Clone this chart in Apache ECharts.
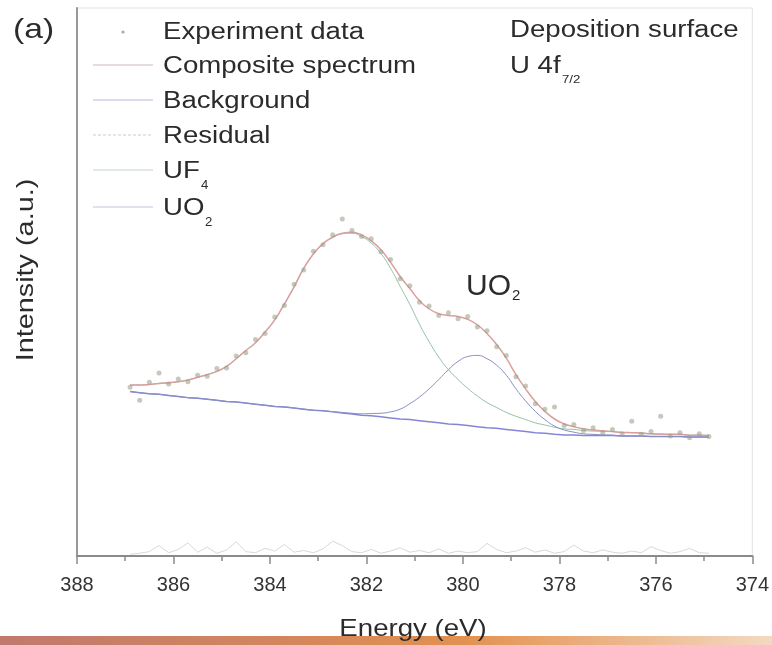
<!DOCTYPE html>
<html>
<head>
<meta charset="utf-8">
<title>U 4f XPS</title>
<script src="https://cdn.jsdelivr.net/npm/echarts@6/dist/echarts.min.js"></script>
<style>
html, body { margin: 0; padding: 0; background: #fff; }
#chart { width: 772px; height: 645px; }
</style>
</head>
<body>
<div id="chart"></div>
<script>
// binding energy grid (eV)
var energies = [386.9, 386.7, 386.5, 386.3, 386.1, 385.9, 385.7, 385.5, 385.3, 385.1,
                384.9, 384.7, 384.5, 384.3, 384.1, 383.9, 383.7, 383.5, 383.3, 383.1,
                382.9, 382.7, 382.5, 382.3, 382.1, 381.9, 381.7, 381.5, 381.3, 381.1,
                380.9, 380.7, 380.5, 380.3, 380.1, 379.9, 379.7, 379.5, 379.3, 379.1,
                378.9, 378.7, 378.5, 378.3, 378.1, 377.9, 377.7, 377.5, 377.3, 377.1,
                376.9, 376.7, 376.5, 376.3, 376.1, 375.9, 375.7, 375.5, 375.3, 375.1, 374.9];

var experiment = [30.8, 28.4, 31.7, 33.4, 31.4, 32.3, 31.8, 33.0, 32.8, 34.2,
                  34.3, 36.5, 37.1, 39.5, 40.6, 43.6, 45.7, 49.6, 52.2, 55.6,
                  56.8, 58.6, 61.5, 59.4, 58.3, 57.9, 55.5, 54.1, 50.6, 49.3,
                  46.3, 45.6, 43.9, 44.4, 43.3, 43.7, 41.8, 41.1, 38.2, 36.6,
                  32.7, 31.0, 27.8, 26.8, 27.2, 23.8, 24.0, 22.9, 23.4, 22.5,
                  23.1, 22.3, 24.6, 22.2, 22.7, 25.5, 21.9, 22.5, 21.6, 22.3, 21.8];

var composite = [31.2, 31.2, 31.3, 31.5, 31.6, 31.8, 32.1, 32.6, 33.1, 33.7,
                 34.6, 36.0, 37.5, 38.9, 40.9, 43.1, 46.0, 49.1, 52.5, 55.1,
                 57.0, 58.2, 58.9, 59.1, 58.6, 57.5, 55.9, 53.6, 51.0, 48.8,
                 46.6, 45.1, 44.2, 43.9, 43.7, 43.2, 42.2, 40.6, 38.6, 36.1,
                 33.1, 30.5, 28.2, 26.4, 25.0, 24.1, 23.6, 23.2, 23.0, 22.85,
                 22.7, 22.55, 22.5, 22.45, 22.3, 22.25, 22.2, 22.2, 22.05, 22.05, 22.0];

var background = [30.0, 29.8, 29.6, 29.5, 29.3, 29.1, 28.9, 28.8, 28.6, 28.4,
                  28.2, 28.1, 27.9, 27.7, 27.5, 27.3, 27.2, 27.0, 26.8, 26.6,
                  26.5, 26.3, 26.1, 25.9, 25.7, 25.6, 25.4, 25.2, 25.0, 24.9,
                  24.7, 24.5, 24.3, 24.1, 24.0, 23.8, 23.6, 23.4, 23.3, 23.1,
                  22.9, 22.7, 22.5, 22.4, 22.2, 22.1, 22.1, 22.0, 22.0, 22.0,
                  22.0, 21.9, 21.9, 21.9, 21.8, 21.8, 21.8, 21.8, 21.7, 21.7, 21.7];

var uf4 = [31.2, 31.2, 31.3, 31.5, 31.6, 31.8, 32.1, 32.6, 33.1, 33.7,
           34.6, 36.0, 37.5, 38.9, 40.9, 43.1, 46.0, 49.1, 52.5, 55.1,
           57.0, 58.1, 58.8, 58.9, 58.3, 57.1, 55.2, 52.5, 49.2, 45.9,
           42.3, 39.1, 36.3, 34.0, 32.2, 30.6, 29.2, 28.0, 27.1, 26.2,
           25.5, 24.9, 24.3, 23.9, 23.5, 23.2, 23.1, 22.9, 22.8, 22.75,
           22.7, 22.55, 22.5, 22.45, 22.3, 22.25, 22.2, 22.2, 22.05, 22.05, 22.0];

var uo2 = [30.0, 29.8, 29.6, 29.5, 29.3, 29.1, 28.9, 28.8, 28.6, 28.4,
           28.2, 28.1, 27.9, 27.7, 27.5, 27.3, 27.2, 27.0, 26.8, 26.6,
           26.5, 26.35, 26.2, 26.05, 25.95, 26.0, 26.05, 26.3, 26.8, 27.8,
           29.0, 30.5, 32.2, 34.0, 35.5, 36.4, 36.6, 36.0, 34.8, 33.0,
           30.5, 28.3, 26.4, 24.9, 23.7, 23.0, 22.6, 22.3, 22.2, 22.1,
           22.05, 21.9, 21.9, 21.9, 21.8, 21.8, 21.8, 21.8, 21.7, 21.7, 21.7];

var residual = [0.3, 0.5, 0.8, 1.9, 0.6, 1.2, 2.4, 0.7, 1.6, 0.5,
                1.1, 2.6, 0.8, 0.6, 1.4, 0.9, 2.1, 0.7, 1.0, 0.6,
                1.3, 2.7, 1.9, 0.8, 0.6, 1.2, 0.5, 0.9, 1.5, 0.7,
                1.0, 0.6, 1.3, 0.5, 0.9, 0.6, 0.8, 2.3, 1.2, 0.6,
                0.9, 1.5, 0.7, 1.1, 0.5, 0.8, 2.0, 0.9, 0.6, 1.1,
                0.7, 0.5, 0.9, 0.6, 1.7, 1.0, 0.5, 0.8, 1.4, 0.6, 0.5];

var xTicks = [388, 386, 384, 382, 380, 378, 376, 374];

var legendNames = ['Experiment data', 'Composite spectrum', 'Background', 'Residual', 'UF', 'UO'];

function pairs(ys) {
    return energies.map(function (e, i) { return [e, ys[i]]; });
}

var FONT = '"Liberation Sans", Arial, sans-serif';
var TXT = '#2b2b2b';

function label(x, y, text, size, sx, align) {
    return {
        type: 'text', x: x, y: y, scaleX: sx || 1, z: 100,
        style: { text: text, fontSize: size, fontFamily: FONT, fill: TXT, align: align || 'left', verticalAlign: 'middle' }
    };
}

var legendRows = [33, 67, 102, 137, 172, 209];
var legendLines = [
    null,
    { c: '#cdb9c3', dash: null },
    { c: '#b7b8dc', dash: null },
    { c: '#cccccc', dash: [3, 2] },
    { c: '#c4d4c9', dash: null },
    { c: '#c0c6de', dash: null }
];

var graphics = [];
// bottom decorative bar
graphics.push({
    type: 'rect', left: 0, top: 636, z: 1,
    shape: { width: 772, height: 9 },
    style: {
        fill: new echarts.graphic.LinearGradient(0, 0, 1, 0, [
            { offset: 0, color: '#c07a6e' },
            { offset: 0.35, color: '#d2855e' },
            { offset: 0.6, color: '#e3914f' },
            { offset: 1, color: '#f4d9c2' }
        ])
    }
});
graphics.push(label(13, 30, '(a)', 28, 1.2));
// legend
graphics.push({ type: 'circle', z: 100, shape: { cx: 123, cy: 32, r: 1.6 }, style: { fill: '#aaaaaa' } });
legendLines.forEach(function (l, i) {
    if (!l) { return; }
    graphics.push({
        type: 'line', z: 100,
        shape: { x1: 93, y1: legendRows[i] - 2, x2: 153, y2: legendRows[i] - 2 },
        style: { stroke: l.c, lineWidth: 1, lineDash: l.dash }
    });
});
legendNames.forEach(function (n, i) {
    graphics.push(label(163, legendRows[i], n, 23, 1.2));
});
graphics.push(label(201, 186, '4', 12, 1.1));
graphics.push(label(205, 223, '2', 12, 1.1));
// sample annotation
graphics.push(label(510, 31, 'Deposition surface', 23, 1.2));
graphics.push(label(510, 67, 'U 4f', 23, 1.2));
graphics.push(label(562, 80, '7/2', 11, 1.2));
// peak label
graphics.push(label(466, 287, 'UO', 30, 1));
graphics.push(label(512, 296, '2', 15, 1));
// axis titles
graphics.push(label(413, 629, 'Energy (eV)', 24, 1.15, 'center'));
graphics.push({
    type: 'text', x: 26, y: 270, rotation: Math.PI / 2, scaleX: 1.2, z: 100,
    style: { text: 'Intensity (a.u.)', fontSize: 24, fontFamily: FONT, fill: TXT, align: 'center', verticalAlign: 'middle' }
});

var option = {
    backgroundColor: '#fff',
    animation: false,
    grid: { left: 77, right: 19, top: 8, bottom: 89, show: true, borderColor: '#e2e2e2', borderWidth: 1 },
    xAxis: {
        type: 'value', min: 374, max: 388, interval: 2, inverse: true,
        axisLine: { show: true, onZero: false, lineStyle: { color: '#8a8a8a', width: 2 } },
        axisTick: { show: true, inside: false, length: 8, lineStyle: { color: '#8a8a8a', width: 1.5 } },
        minorTick: { show: true, splitNumber: 2, length: 5, lineStyle: { color: '#8a8a8a', width: 1.5 } },
        splitLine: { show: false },
        axisLabel: {
            margin: 19, fontSize: 20, fontFamily: FONT, color: '#333',
            formatter: function (v) { return xTicks.indexOf(v) >= 0 ? String(v) : ''; }
        }
    },
    yAxis: {
        type: 'value', min: 0, max: 100,
        axisLine: { show: true, lineStyle: { color: '#999', width: 2 } },
        axisTick: { show: false }, axisLabel: { show: false }, splitLine: { show: false }
    },
    series: [
        { name: 'Residual', type: 'line', data: pairs(residual), symbol: 'none', z: 2,
          lineStyle: { color: '#d8d8d8', width: 1 } },
        { name: 'Background', type: 'line', data: pairs(background), symbol: 'none', z: 3,
          lineStyle: { color: '#8585d6', width: 1.5 } },
        { name: 'UF4', type: 'line', data: pairs(uf4), symbol: 'none', smooth: true, z: 3,
          lineStyle: { color: '#93c3a4', width: 1 } },
        { name: 'UO2', type: 'line', data: pairs(uo2), symbol: 'none', smooth: true, z: 3,
          lineStyle: { color: '#8890c4', width: 1 } },
        { name: 'Composite spectrum', type: 'line', data: pairs(composite), symbol: 'none', smooth: true, z: 4,
          lineStyle: { color: '#dc9f9f', width: 1.5 } },
        { name: 'Experiment data', type: 'scatter', data: pairs(experiment), symbolSize: 5, z: 5,
          itemStyle: { color: 'rgba(152,158,136,0.7)' } }
    ],
    graphic: graphics
};

var myChart = echarts.init(document.getElementById('chart'));
myChart.setOption(option);
</script>
</body>
</html>
